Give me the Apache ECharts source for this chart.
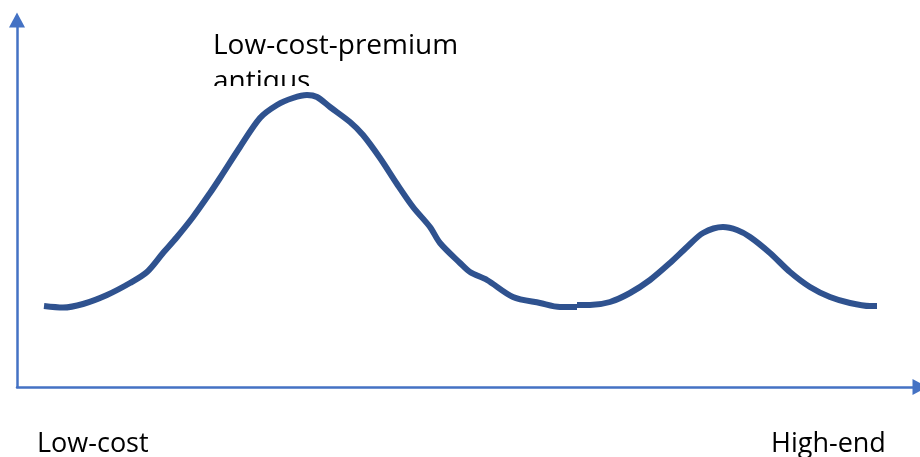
<!DOCTYPE html>
<html>
<head>
<meta charset="utf-8">
<script src="https://cdn.jsdelivr.net/npm/echarts@6/dist/echarts.min.js"></script>
<style>
  html, body { margin: 0; padding: 0; background: #fff; }
  #chart { width: 920px; height: 457px; }
</style>
</head>
<body>
<div id="chart"></div>
<script>
// Price positioning (x: low-cost -> high-end) vs. demand (y)
const lowSegmentX = [27, 46, 66, 90, 113, 130, 146, 160, 176, 193, 203, 223, 243, 260, 276, 290, 300, 313, 333, 346, 363, 380, 396, 413, 423, 443, 453, 470, 496, 523, 543, 560];
const lowSegmentY = [81, 79.5, 83, 92, 104, 115, 134, 150, 170, 194, 209, 240, 269, 282, 289, 292, 290, 280, 265, 252, 229, 203, 180, 160, 144, 124, 115, 107, 90, 84, 80, 80];
const highSegmentX = [560, 573, 593, 613, 633, 653, 670, 686, 706, 720, 733, 753, 773, 793, 813, 833, 853, 860];
const highSegmentY = [82, 82, 85, 94, 107, 124, 140, 154, 160, 157, 150, 134, 115, 100, 90, 84, 81, 81];

const axisLabels = ['Low-cost', 'High-end'];
const peakLabel = ['Low-cost-premium', 'antiqus'];

const pairs = (xs, ys) => xs.map((x, i) => [x, ys[i]]);

const chart = echarts.init(document.getElementById('chart'), null, { renderer: 'canvas' });

const axisColor = '#4472C4';
const lineColor = '#2F528F';
const font = '"Open Sans", sans-serif';

chart.setOption({
  animation: false,
  backgroundColor: '#ffffff',
  grid: { left: 17, right: 0, top: 20, bottom: 70, containLabel: false },
  xAxis: {
    type: 'value', min: 0, max: 903,
    axisLine: { show: true, symbol: ['none', 'triangle'], symbolSize: [16, 15], lineStyle: { color: axisColor, width: 2.5 } },
    axisTick: { show: false }, axisLabel: { show: false }, splitLine: { show: false }
  },
  yAxis: {
    type: 'value', min: 0, max: 367,
    axisLine: { show: true, symbol: ['none', 'triangle'], symbolSize: [16, 15], lineStyle: { color: axisColor, width: 2.5 } },
    axisTick: { show: false }, axisLabel: { show: false }, splitLine: { show: false }
  },
  graphic: [
    { type: 'text', left: 213, top: 32, z: 1,
      style: { text: peakLabel[0], fill: '#000', font: '28px ' + font } },
    { type: 'text', left: 213, top: 68, z: 1,
      style: { text: peakLabel[1], fill: '#000', font: '28px ' + font } },
    // the second line of the label is cut off by the box below it
    { type: 'rect', shape: { x: 200, y: 86, width: 300, height: 40 }, z: 1,
      style: { fill: '#ffffff' } },
    { type: 'text', left: 37, top: 431, z: 1,
      style: { text: axisLabels[0], fill: '#000', font: '27px ' + font } },
    { type: 'text', left: 771, top: 431, z: 1,
      style: { text: axisLabels[1], fill: '#000', font: '27px ' + font } }
  ],
  series: [
    { type: 'line', data: pairs(lowSegmentX, lowSegmentY), smooth: 0.3, showSymbol: false, z: 5,
      lineStyle: { color: lineColor, width: 6 } },
    { type: 'line', data: pairs(highSegmentX, highSegmentY), smooth: 0.3, showSymbol: false, z: 5,
      lineStyle: { color: lineColor, width: 6 } }
  ]
});
</script>
</body>
</html>
